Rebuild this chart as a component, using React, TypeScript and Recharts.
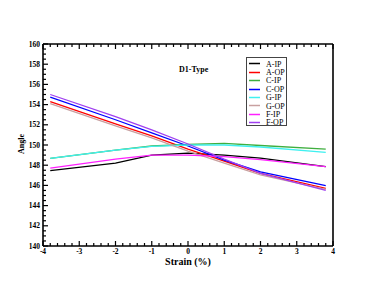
import { LineChart, Line, XAxis, YAxis } from 'recharts';

const strain = [-3.8, -2, -1, 0, 1, 2, 3.8];

const aIP = [147.46, 148.2, 149.0, 149.2, 149.0, 148.7, 147.85];
const aOP = [154.3, 152.1, 150.9, 149.6, 148.4, 147.2, 145.7];
const cIP = [148.68, 149.5, 149.9, 150.05, 150.16, 149.95, 149.6];
const cOP = [154.75, 152.5, 151.2, 149.9, 148.5, 147.35, 145.97];
const gIP = [148.68, 149.5, 149.87, 150.0, 150.0, 149.8, 149.27];
const gOP = [154.1, 151.9, 150.7, 149.4, 148.2, 147.05, 145.6];
const fIP = [147.7, 148.6, 149.0, 149.0, 148.85, 148.55, 147.85];
const fOP = [155.0, 152.8, 151.5, 150.1, 148.6, 147.2, 145.5];

const seriesNames = ['A-IP', 'A-OP', 'C-IP', 'C-OP', 'G-IP', 'G-OP', 'F-IP', 'F-OP'];
const seriesColors = ['#000000', '#ff0000', '#3fae3f', '#0000ff', '#40f0f0', '#c8a0a0', '#ff20ff', '#a040f0'];
const seriesValues = [aIP, aOP, cIP, cOP, gIP, gOP, fIP, fOP];

const xTicks = [
  -4, -3.8, -3.6, -3.4, -3.2, -3, -2.8, -2.6, -2.4, -2.2, -2, -1.8, -1.6, -1.4, -1.2, -1,
  -0.8, -0.6, -0.4, -0.2, 0, 0.2, 0.4, 0.6, 0.8, 1, 1.2, 1.4, 1.6, 1.8, 2, 2.2, 2.4, 2.6,
  2.8, 3, 3.2, 3.4, 3.6, 3.8, 4,
];
const yTicks = [
  140, 140.5, 141, 141.5, 142, 142.5, 143, 143.5, 144, 144.5, 145, 145.5, 146, 146.5, 147,
  147.5, 148, 148.5, 149, 149.5, 150, 150.5, 151, 151.5, 152, 152.5, 153, 153.5, 154, 154.5,
  155, 155.5, 156, 156.5, 157, 157.5, 158, 158.5, 159, 159.5, 160,
];

const data = strain.map((s, i) => {
  const row: Record<string, number> = { strain: s };
  seriesNames.forEach((n, k) => {
    row[n] = seriesValues[k][i];
  });
  return row;
});

const font = '"Liberation Serif", "DejaVu Serif", serif';

const isMajorX = (v: number) => Math.abs(v - Math.round(v)) < 1e-6;
const isMajorY = (v: number) => Math.abs(v / 2 - Math.round(v / 2)) < 1e-6;

// tick marks point into the plot, drawn as thin filled rects
function BottomTick({ x, y, payload }: any) {
  const len = isMajorX(payload.value) ? 5 : 3;
  return (
    <g>
      <rect x={x - 0.6} y={y - len} width={1.2} height={len} fill="#000" />
      {isMajorX(payload.value) && (
        <text x={x} y={y + 8} textAnchor="middle" fontFamily={font} fontWeight="bold" fontSize={7.5} fill="#000">
          {Math.round(payload.value)}
        </text>
      )}
    </g>
  );
}

function TopTick({ x, y, payload }: any) {
  const len = isMajorX(payload.value) ? 5 : 3;
  return <rect x={x - 0.6} y={y} width={1.2} height={len} fill="#000" />;
}

function LeftTick({ x, y, payload }: any) {
  const len = isMajorY(payload.value) ? 5 : 3;
  return (
    <g>
      <rect x={x} y={y - 0.6} width={len} height={1.2} fill="#000" />
      {isMajorY(payload.value) && (
        <text x={x - 3} y={y + 2.6} textAnchor="end" fontFamily={font} fontWeight="bold" fontSize={7.5} fill="#000">
          {payload.value}
        </text>
      )}
    </g>
  );
}

function RightTick({ x, y, payload }: any) {
  const len = isMajorY(payload.value) ? 5 : 3;
  return <rect x={x - len} y={y - 0.6} width={len} height={1.2} fill="#000" />;
}

const axisLine = { stroke: '#000', strokeWidth: 1.6 };

export default function App() {
  return (
    <div style={{ position: 'absolute', left: 0, top: 0, width: 374, height: 289, background: '#fff' }}>
      <LineChart width={374} height={289} data={data} margin={{ top: 43, right: 40, bottom: 0, left: 0 }}>
        <XAxis
          xAxisId="bottom"
          dataKey="strain"
          type="number"
          domain={[-4, 4]}
          ticks={xTicks}
          interval={0}
          height={43}
          tickSize={0}
          tickMargin={0}
          tickLine={false}
          axisLine={axisLine}
          tick={(p: any) => <BottomTick {...p} />}
        />
        <XAxis
          xAxisId="top"
          orientation="top"
          dataKey="strain"
          type="number"
          domain={[-4, 4]}
          ticks={xTicks}
          interval={0}
          height={1}
          tickSize={0}
          tickMargin={0}
          tickLine={false}
          axisLine={axisLine}
          tick={(p: any) => <TopTick {...p} />}
        />
        <YAxis
          yAxisId="left"
          type="number"
          domain={[140, 160]}
          ticks={yTicks}
          interval={0}
          width={43}
          tickSize={0}
          tickMargin={0}
          tickLine={false}
          axisLine={axisLine}
          tick={(p: any) => <LeftTick {...p} />}
        />
        <YAxis
          yAxisId="right"
          orientation="right"
          type="number"
          domain={[140, 160]}
          ticks={yTicks}
          interval={0}
          width={1}
          tickSize={0}
          tickMargin={0}
          tickLine={false}
          axisLine={axisLine}
          tick={(p: any) => <RightTick {...p} />}
        />
        {seriesNames.map((n, k) => (
          <Line
            key={n}
            xAxisId="bottom"
            yAxisId="left"
            type="linear"
            dataKey={n}
            stroke={seriesColors[k]}
            strokeWidth={1.3}
            dot={false}
            isAnimationActive={false}
          />
        ))}
      </LineChart>

      <div
        style={{
          position: 'absolute', left: 179, top: 65, fontFamily: font, fontWeight: 'bold',
          fontSize: 8, lineHeight: '10px', whiteSpace: 'nowrap',
        }}
      >
        D1-Type
      </div>

      <div
        style={{
          position: 'absolute', left: 22, top: 144, transform: 'translate(-50%, -50%) rotate(-90deg)',
          fontFamily: font, fontWeight: 'bold', fontSize: 8, lineHeight: '10px', whiteSpace: 'nowrap',
        }}
      >
        Angle
      </div>

      <div
        style={{
          position: 'absolute', left: 188, top: 262, transform: 'translate(-50%, -50%)',
          fontFamily: font, fontWeight: 'bold', fontSize: 10, lineHeight: '12px', whiteSpace: 'nowrap',
        }}
      >
        Strain (%)
      </div>

      <div
        style={{
          position: 'absolute', left: 246, top: 57, width: 41, height: 69, border: '1px solid #444',
          boxSizing: 'border-box', background: '#fff',
        }}
      >
        {seriesNames.map((n, k) => (
          <div
            key={n}
            style={{
              position: 'absolute', left: 2, top: 1.8 + k * 8.4, height: 8.4, display: 'flex',
              alignItems: 'center', fontFamily: font, fontSize: 8, whiteSpace: 'nowrap',
            }}
          >
            <svg width={11} height={3} style={{ marginRight: 6, display: 'block' }}>
              <line x1={0} x2={11} y1={1.5} y2={1.5} stroke={seriesColors[k]} strokeWidth={1.5} />
            </svg>
            {n}
          </div>
        ))}
      </div>
    </div>
  );
}
